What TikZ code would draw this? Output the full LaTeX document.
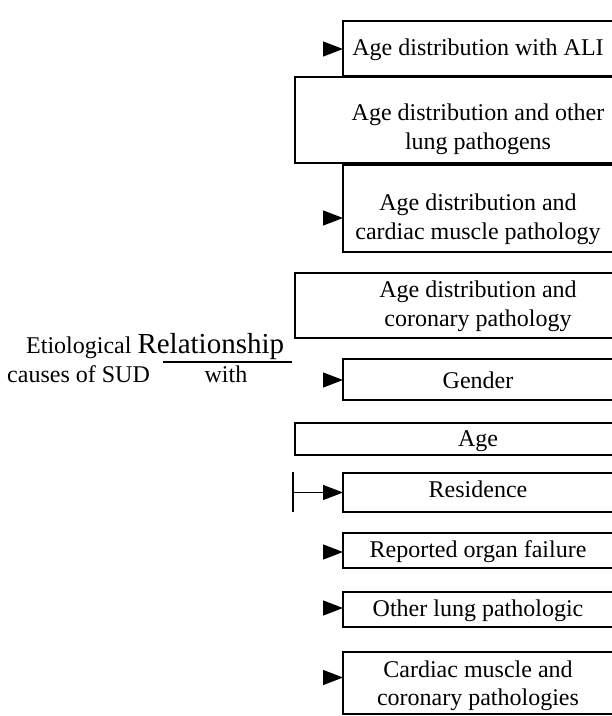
\documentclass[tikz,border=0pt]{standalone}
\usepackage{fontspec}
\setmainfont{Liberation Serif}
\usetikzlibrary{arrows.meta}
\begin{document}
\begin{tikzpicture}[x=1pt,y=-1pt,
  box/.style={draw, line width=1.8pt, anchor=north west, inner sep=0pt, outer sep=0pt},
  txt/.style={anchor=base, inner sep=0pt, font=\fontsize{24}{28}\selectfont},
  ltxt/.style={anchor=base west, inner sep=0pt, font=\fontsize{24}{28}\selectfont},
  tip/.style={line width=1.2pt, -{Triangle[length=20pt,width=15pt]}},
  plain/.style={line width=1.4pt}]
\useasboundingbox (0,0) rectangle (612,716);
\clip (0,0) rectangle (612,716);
% boxes
\node[box, minimum width=307pt, minimum height=55pt] (b1) at (343,21) {};
\node[box, minimum width=355pt, minimum height=86pt] (b2) at (295,77) {};
\node[box, minimum width=307pt, minimum height=87pt] (b3) at (343,165) {};
\node[box, minimum width=355pt, minimum height=65pt] (b4) at (295,273) {};
\node[box, minimum width=307pt, minimum height=41pt] (b5) at (343,359) {};
\node[box, minimum width=355pt, minimum height=32pt] (b6) at (295,423) {};
\node[box, minimum width=307pt, minimum height=39pt] (b7) at (343,473) {};
\node[box, minimum width=307pt, minimum height=35pt] (b8) at (343,533) {};
\node[box, minimum width=307pt, minimum height=35pt] (b9) at (343,592) {};
\node[box, minimum width=307pt, minimum height=62pt] (b10) at (343,652) {};
% texts
\node[txt] (t1) at (478,55) {Age distribution with ALI};
\node[txt] (t2a) at (478,120.5) {Age distribution and other};
\node[txt] (t2b) at (478,149) {lung pathogens};
\node[txt] (t3a) at (478,210.5) {Age distribution and};
\node[txt] (t3b) at (478,239.5) {cardiac muscle pathology};
\node[txt] (t4a) at (478,297.5) {Age distribution and};
\node[txt] (t4b) at (478,326) {coronary pathology};
\node[txt] (t5) at (478,388) {Gender};
\node[txt] (t6) at (478,446.5) {Age};
\node[txt] (t7) at (478,497.5) {Residence};
\node[txt] (t8) at (478,557) {Reported organ failure};
\node[txt] (t9) at (478,616) {Other lung pathologic};
\node[txt] (t10a) at (478,677) {Cardiac muscle and};
\node[txt] (t10b) at (478,705) {coronary pathologies};
% left label
\node[ltxt] (e1) at (26,353) {Etiological {\fontsize{29}{34}\selectfont Relationship}};
\node[ltxt] (e2) at (7,382) {causes of SUD};
\node[txt] (e3) at (226,382) {with};
\coordinate (l1) at (163,362);
\coordinate (l2) at (292,362);
\draw[plain] (l1) -- (l2);
% arrows
\coordinate (a1) at (323,49);
\coordinate (a3) at (323,218);
\coordinate (a5) at (323,380);
\coordinate (a8) at (323,552);
\coordinate (a9) at (323,608);
\coordinate (a10) at (323,677.5);
\draw[tip] (a1) -- (a1 -| b1.west);
\draw[tip] (a3) -- (a3 -| b3.west);
\draw[tip] (a5) -- (a5 -| b5.west);
\draw[tip] (a8) -- (a8 -| b8.west);
\draw[tip] (a9) -- (a9 -| b9.west);
\draw[tip] (a10) -- (a10 -| b10.west);
% residence connector
\coordinate (r0) at (293,492.5);
\coordinate (rt) at (293,472);
\coordinate (rb) at (293,512);
\draw[plain] (rt) -- (rb);
\draw[tip] (r0) -- (b7.west);
\end{tikzpicture}
\end{document}
